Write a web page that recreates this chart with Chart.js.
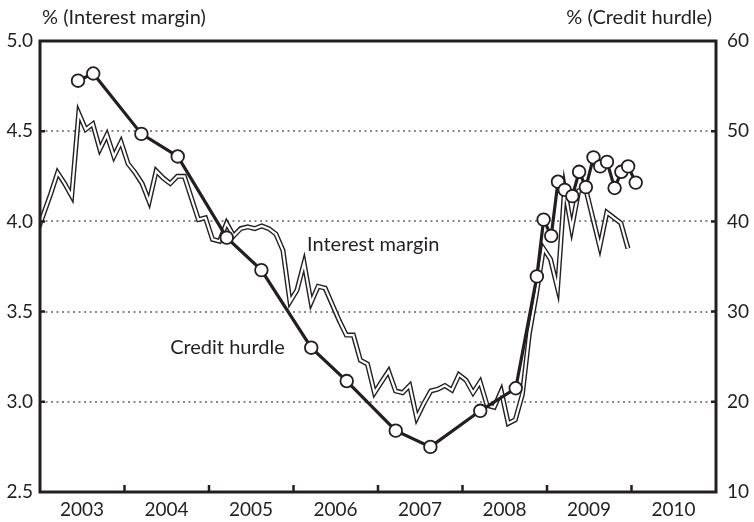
<!DOCTYPE html>
<html>
<head>
<meta charset="utf-8">
<script src="https://cdn.jsdelivr.net/npm/chart.js@4.4.1/dist/chart.umd.min.js"></script>
<style>
  html, body { margin: 0; padding: 0; background: #fff; }
  #wrap { width: 754px; height: 522px; }
</style>
</head>
<body>
<div id="wrap"><canvas id="margin-chart" width="754" height="522"></canvas></div>
<script>
// interest margin, monthly (mid-month) starting December 2002, left axis (%)
const marginStart = 2002 + 11.5 / 12;
const marginValues = [
  3.93, 4.04, 4.15, 4.27, 4.21, 4.14, 4.60, 4.51, 4.54, 4.40, 4.48, 4.36, 4.44,
  4.32, 4.27, 4.21, 4.11, 4.28, 4.24, 4.21, 4.25, 4.25, 4.13, 4.01, 4.02,
  3.90, 3.89, 3.99, 3.92, 3.96, 3.97, 3.96, 3.975, 3.96, 3.93, 3.84, 3.555,
  3.62, 3.77, 3.55, 3.64, 3.63, 3.54, 3.45, 3.37, 3.37, 3.23, 3.21, 3.05,
  3.11, 3.17, 3.06, 3.05, 3.09, 2.91, 2.99, 3.06, 3.07, 3.09, 3.065, 3.15,
  3.12, 3.05, 3.11, 2.98, 2.97, 3.06, 2.88, 2.90, 3.04, 3.38, 3.60, 3.85,
  3.79, 3.63, 4.18, 3.96, 4.17, 4.18, 4.02, 3.86, 4.05, 4.02, 3.99, 3.85
];

// credit hurdle survey readings, right axis (%)
const hurdleDates = [
  2003.45, 2003.63, 2004.20, 2004.63, 2005.21, 2005.62, 2006.21, 2006.63,
  2007.21, 2007.62, 2008.21, 2008.63, 2008.88, 2008.96, 2009.05, 2009.13,
  2009.21, 2009.30, 2009.38, 2009.46, 2009.55, 2009.63, 2009.71, 2009.80,
  2009.88, 2009.96, 2010.05
];
const hurdleValues = [
  55.6, 56.4, 49.7, 47.2, 38.2, 34.6, 26.0, 22.3,
  16.8, 15.0, 19.0, 21.5, 33.9, 40.2, 38.4, 44.4,
  43.5, 42.8, 45.5, 43.8, 47.1, 46.1, 46.6, 43.7,
  45.5, 46.1, 44.3
];

const years = [2003, 2004, 2005, 2006, 2007, 2008, 2009, 2010];
const leftTicks = [2.5, 3.0, 3.5, 4.0, 4.5, 5.0];
const rightTicks = [10, 20, 30, 40, 50, 60];

const INK = '#231f20';
const FAMILY = 'Lato, "Open Sans", sans-serif';
const CAPTION_FONT = '20px ' + FAMILY;

const marginPoints = marginValues.map((v, i) => ({ x: marginStart + i / 12, y: v }));
const hurdlePoints = hurdleDates.map((d, i) => ({ x: d, y: hurdleValues[i] }));

// frame, inward tick marks, axis captions and line labels
const decorations = {
  id: 'decorations',
  afterDatasetsDraw(chart) {
    const { ctx, chartArea: a, scales } = chart;
    ctx.save();
    ctx.strokeStyle = INK;
    ctx.lineWidth = 2.5;
    ctx.lineCap = 'butt';
    ctx.beginPath();
    leftTicks.slice(1, -1).forEach(v => {
      const y = scales.y.getPixelForValue(v);
      ctx.moveTo(a.left, y); ctx.lineTo(a.left + 5, y);
    });
    rightTicks.slice(1, -1).forEach(v => {
      const y = scales.y2.getPixelForValue(v);
      ctx.moveTo(a.right, y); ctx.lineTo(a.right - 5, y);
    });
    years.slice(1).forEach(yr => {
      const x = scales.x.getPixelForValue(yr);
      ctx.moveTo(x, a.bottom); ctx.lineTo(x, a.bottom - 7);
    });
    ctx.stroke();

    ctx.lineWidth = 3;
    ctx.strokeRect(a.left, a.top, a.right - a.left, a.bottom - a.top);

    ctx.fillStyle = INK;
    ctx.font = CAPTION_FONT;
    ctx.textBaseline = 'middle';
    ctx.textAlign = 'left';
    ctx.fillText('% (Interest margin)', a.left + 2, 18);
    ctx.textAlign = 'right';
    ctx.fillText('% (Credit hurdle)', a.right - 4, 18);

    ctx.textAlign = 'left';
    ctx.fillText('Interest margin', scales.x.getPixelForValue(2006.16), scales.y.getPixelForValue(3.87));
    ctx.fillText('Credit hurdle', scales.x.getPixelForValue(2004.54), scales.y.getPixelForValue(3.30));
    ctx.restore();
  }
};

new Chart(document.getElementById('margin-chart'), {
  type: 'line',
  data: {
    datasets: [
      {
        label: 'Credit hurdle',
        data: hurdlePoints,
        yAxisID: 'y2',
        order: 0,
        borderColor: INK,
        borderWidth: 3.2,
        pointRadius: 6.3,
        pointBackgroundColor: '#fff',
        pointBorderColor: INK,
        pointBorderWidth: 1.8,
        tension: 0
      },
      {
        label: 'Interest margin',
        data: marginPoints,
        yAxisID: 'y',
        order: 1,
        borderColor: '#fff',
        borderWidth: 2.2,
        borderJoinStyle: 'miter',
        pointRadius: 0,
        tension: 0,
        clip: 0
      },
      {
        label: 'Interest margin outline',
        data: marginPoints,
        yAxisID: 'y',
        order: 2,
        borderColor: INK,
        borderWidth: 5,
        borderJoinStyle: 'miter',
        pointRadius: 0,
        tension: 0,
        clip: 0
      }
    ]
  },
  options: {
    responsive: false,
    animation: false,
    events: [],
    layout: { padding: { top: 41, left: 0, right: 0, bottom: 0 } },
    plugins: {
      legend: { display: false },
      tooltip: { enabled: false },
      title: { display: false }
    },
    scales: {
      x: {
        type: 'linear',
        min: 2003,
        max: 2011,
        border: { display: false },
        grid: { display: false, drawTicks: false },
        afterBuildTicks: axis => { axis.ticks = years.concat([2011]).map(v => ({ value: v })); },
        afterFit: axis => { axis.height = 30; },
        ticks: {
          autoSkip: false,
          maxRotation: 0,
          padding: 6,
          labelOffset: 42,
          color: INK,
          font: { family: FAMILY, size: 19 },
          callback: v => (years.includes(v) ? String(v) : '')
        }
      },
      y: {
        position: 'left',
        min: 2.5,
        max: 5.0,
        border: { display: false, dash: [2, 3.5] },
        afterBuildTicks: axis => { axis.ticks = leftTicks.map(v => ({ value: v })); },
        afterFit: axis => { axis.width = 40; },
        grid: {
          drawTicks: false,
          lineWidth: 2,
          color: c => (c.tick && (c.tick.value === 2.5 || c.tick.value === 5.0) ? 'rgba(0,0,0,0)' : '#8a8a8a')
        },
        ticks: {
          padding: 7,
          color: INK,
          font: { family: FAMILY, size: 19 },
          callback: v => v.toFixed(1)
        }
      },
      y2: {
        position: 'right',
        min: 10,
        max: 60,
        border: { display: false },
        afterBuildTicks: axis => { axis.ticks = rightTicks.map(v => ({ value: v })); },
        afterFit: axis => { axis.width = 38; },
        grid: { drawOnChartArea: false, drawTicks: false },
        ticks: {
          padding: 11,
          color: INK,
          font: { family: FAMILY, size: 19 },
          callback: v => String(v)
        }
      }
    }
  },
  plugins: [decorations]
});
</script>
</body>
</html>
